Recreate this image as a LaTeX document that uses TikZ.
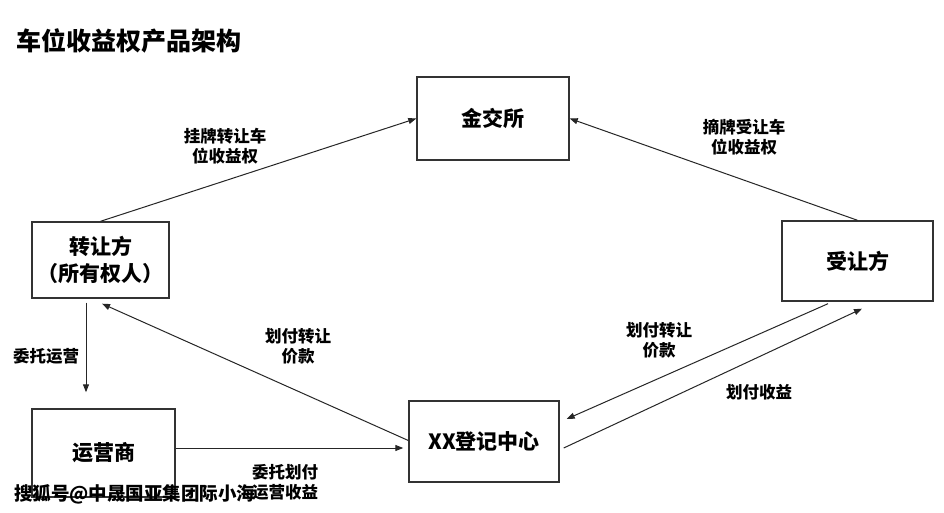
\documentclass[tikz,border=0pt]{standalone}
\usepackage{fontspec}
\setmainfont{Noto Sans CJK SC}
\usetikzlibrary{arrows.meta}
\begin{document}
\begin{tikzpicture}[x=1pt,y=-1pt,
  box/.style={draw=black!80,line width=1.4pt,inner sep=0pt,align=center,
    font=\bfseries\fontsize{21}{27}\selectfont},
  lbl/.style={inner sep=0pt,align=center,font=\bfseries\fontsize{16.5}{20}\selectfont},
  arr/.style={draw=black!85,line width=1pt,-{Triangle[length=8pt,width=6pt]}},
  ttl/.style={inner sep=0pt,anchor=west,font=\bfseries\fontsize{25}{30}\selectfont},
  wm/.style={inner sep=0pt,anchor=west,font=\bfseries\fontsize{18.5}{22}\selectfont}]
\useasboundingbox[fill=white] (0,0) rectangle (944,513);

\node[ttl] (title) at (16,41) {车位收益权产品架构};

\node[box,minimum width=152pt,minimum height=83pt] (jjs) at (493,118.5) {金交所};
\node[box,minimum width=151pt,minimum height=80pt] (srf) at (857.5,261) {受让方};
\node[box,minimum width=137pt,minimum height=76pt] (zrf) at (100.5,260) {转让方\\（所有权人）};
\node[box,minimum width=143pt,minimum height=88pt] (yys) at (103.5,453) {运营商};
\node[box,minimum width=150pt,minimum height=81pt] (xx) at (484,441.5) {XX登记中心};

\draw[arr] (zrf.north) -- (jjs.west);
\draw[arr] (srf.north) -- (jjs.east);
\draw[arr] ([shift={(-14.5,4)}]zrf.south) -- ([shift={(-17.5,-16)}]yys.north);
\draw[arr] ([shift={(0,-5)}]yys.east) -- ([shift={(-5,6.5)}]xx.west);
\draw[arr] ([shift={(0,-1)}]xx.west) -- ([shift={(1.5,5)}]zrf.south);
\draw[arr] ([shift={(-29.5,2)}]srf.south) -- ([shift={(7,-22.5)}]xx.east);
\draw[arr] ([shift={(4,6.5)}]xx.east) -- ([shift={(4.5,7)}]srf.south);

\node[lbl] (l1) at (225,146) {挂牌转让车\\位收益权};
\node[lbl] (l2) at (744,137) {摘牌受让车\\位收益权};
\node[lbl] (l3) at (46,356) {委托运营};
\node[lbl] (l4) at (298,346) {划付转让\\价款};
\node[lbl] (l5) at (659,340) {划付转让\\价款};
\node[lbl] (l6) at (759,392) {划付收益};
\node[lbl] (l7) at (285,482) {委托划付\\运营收益};

\node[wm] (wmk) at (14,494) {搜狐号@中晟国亚集团际小海};
\end{tikzpicture}
\end{document}
